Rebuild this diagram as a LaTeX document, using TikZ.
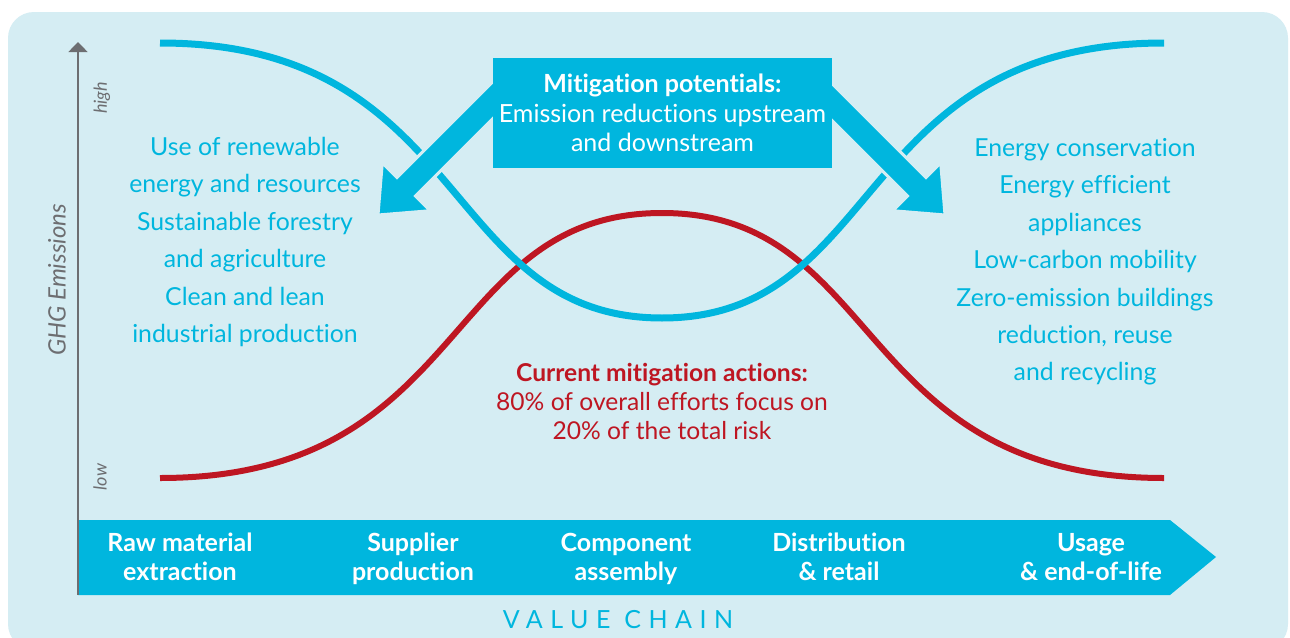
\documentclass[tikz,border=0pt]{standalone}
\usepackage{fontspec}
\setmainfont{Lato}[Ligatures=NoCommon]
\usepackage{xcolor}
\usepackage{tikz}
\usetikzlibrary{positioning}
\usetikzlibrary{arrows.meta}

\definecolor{chainbg}{HTML}{D5EDF3}
\definecolor{chaincyan}{HTML}{00B6DE}
\definecolor{chainred}{HTML}{BE1622}
\definecolor{axisgrey}{HTML}{6D6E71}

\tikzset{
	stage/.style={font=\bfseries\fontsize{25}{29}\selectfont, text=white, align=center},
	measures/.style={font=\fontsize{24.8}{37.4}\selectfont, text=chaincyan, align=center},
	potential box/.style={fill=chaincyan, text=white, align=center, minimum width=339pt,
		minimum height=110pt, inner sep=0pt, font=\fontsize{25}{29.5}\selectfont},
	actions/.style={font=\fontsize{24.6}{29}\selectfont, text=chainred, align=center},
	axis label/.style={font=\itshape\fontsize{18}{18}\selectfont, text=axisgrey, rotate=90},
	big arrow/.style={fill=chaincyan, draw=chainbg, line width=3pt, line join=miter},
	emission curve/.style={line width=#1, line cap=butt}
}

\begin{document}
\begin{tikzpicture}[x=1pt,y=-1pt]
	\useasboundingbox (0,0) rectangle (1290,637);
	\fill[white] (0,0) rectangle (1290,637);
	\fill[chainbg, rounded corners=26pt] (8,12) rectangle (1288,650);

	% value chain band
	\fill[chaincyan] (78,520) -- (1170,520) -- (1216,557) -- (1170,595) -- (78,595) -- cycle;
	\node[stage] (raw) at (180,560) {\strut Raw material\\\strut extraction};
	\node[stage] (supplier) at (413,560) {\strut Supplier\\\strut production};
	\node[stage] (component) at (626,560) {\strut Component\\\strut assembly};
	\node[stage] (retail) at (839,560) {\strut Distribution\\\strut\& retail};
	\node[stage] (usage) at (1091,560) {\strut Usage\\\strut\& end-of-life};
	\node[font=\fontsize{25}{25}\selectfont\addfontfeature{LetterSpace=30}, text=chaincyan]
		(chain) at (618,620) {VALUE CHAIN};

	% emissions axis
	\draw[axisgrey, line width=1.5pt, -{Triangle[width=19pt,length=10pt]}] (78,595) -- (78,42);
	\node[axis label] (high) at (102,98) {high};
	\node[axis label] (low) at (100,477) {low};
	\node[axis label, font=\itshape\fontsize{24}{24}\selectfont] (ghg) at (57,280) {GHG Emissions};

	% curves
	\draw[chainred, emission curve=6pt] (160,478) .. controls (471,478) and (440,213) .. (662,213)
		.. controls (884,213) and (853,478) .. (1164,478);
	\draw[chaincyan, emission curve=7pt] (160,43) .. controls (471,43) and (440,318) .. (662,318)
		.. controls (884,318) and (853,43) .. (1164,43);

	% arrows out of the box
	\draw[big arrow] (378,215) -- (382.3,162.7) -- (397.1,177.5) -- (503.2,71.4) -- (521.6,89.8)
		-- (415.5,195.9) -- (430.3,210.7) -- cycle;
	\draw[big arrow] (945,215) -- (940.7,162.7) -- (925.9,177.5) -- (819.8,71.4) -- (801.4,89.8)
		-- (907.5,195.9) -- (892.7,210.7) -- cycle;

	\node[potential box] (potentials) at (662.5,113)
		{\textbf{Mitigation potentials:}\\Emission reductions upstream\\and downstream};

	\node[measures] (upstream) at (245,242) {Use of renewable\\energy and resources\\Sustainable forestry\\and agriculture\\Clean and lean\\industrial production};
	\node[measures] (downstream) at (1085,262) {Energy conservation\\Energy efficient\\appliances\\Low-carbon mobility\\Zero-emission buildings\\reduction, reuse\\and recycling};

	\node[actions] (current) at (662,401) {\textbf{Current mitigation actions:}\\80\% of overall efforts focus on\\20\% of the total risk};
\end{tikzpicture}
\end{document}
